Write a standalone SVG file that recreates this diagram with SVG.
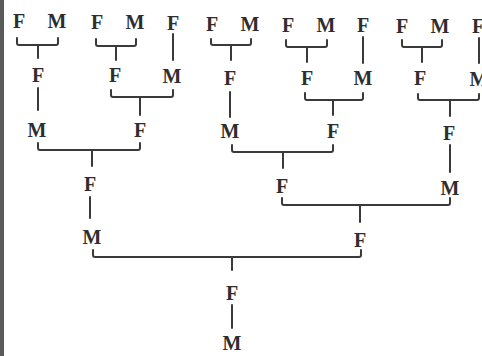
<svg xmlns="http://www.w3.org/2000/svg" width="482" height="356" viewBox="0 0 482 356">
<style>
.n{font-family:"Liberation Serif","Times New Roman",serif;font-size:20px;font-weight:bold;fill:#2e2e2e;text-anchor:middle}
.c{fill:none;stroke:#3a3a3a;stroke-width:2;stroke-linecap:round;stroke-linejoin:round}
</style>
<rect width="482" height="356" fill="#ffffff"/>
<rect x="0" y="0" width="4" height="356" fill="#5a5a5a"/>
<g id="connectors" class="c">
<path d="M17 38V43Q17 45 19 45H56Q58 45 58 43V38M38 45V58"/>
<path d="M96 39V44Q96 46 98 46H134Q136 46 136 44V39M116 46V60"/>
<path d="M173 34V60"/>
<path d="M211 39V43Q211 45 213 45H249Q251 45 251 43V39M231 45V60"/>
<path d="M286 40V45Q286 47 288 47H325Q327 47 327 45V40M307 47V62"/>
<path d="M363 37V63"/>
<path d="M402 40V45Q402 47 404 47H440Q442 47 442 45V40M422 47V62"/>
<path d="M479 38V63"/>
<path d="M38 88V110"/>
<path d="M111 90V95Q111 97 113 97H171Q173 97 173 95V90M140 97V115"/>
<path d="M230 92V117"/>
<path d="M305 93V98Q305 100 307 100H361Q363 100 363 98V93M333 100V115"/>
<path d="M418 94V98Q418 100 420 100H477Q479 100 479 98V94M450 100V116"/>
<path d="M38 143V148Q38 150 40 150H138Q140 150 140 148V143M92 150V166"/>
<path d="M232 145V150Q232 152 234 152H331Q333 152 333 150V145M283 152V168"/>
<path d="M450 145V172"/>
<path d="M90 197V218"/>
<path d="M282 198V203Q282 205 284 205H448Q450 205 450 203V198M360 205V222"/>
<path d="M93 250V255Q93 257 95 257H359Q361 257 361 255V250M232 257V270"/>
<path d="M232 305V328"/>
</g>
<g id="n1"><text class="n" x="19" y="28">F</text></g>
<g id="n2"><text class="n" x="57" y="28">M</text></g>
<g id="n3"><text class="n" x="97" y="29">F</text></g>
<g id="n4"><text class="n" x="135" y="29">M</text></g>
<g id="n5"><text class="n" x="173" y="30">F</text></g>
<g id="n6"><text class="n" x="212" y="31">F</text></g>
<g id="n7"><text class="n" x="250" y="31">M</text></g>
<g id="n8"><text class="n" x="288" y="32">F</text></g>
<g id="n9"><text class="n" x="326" y="32">M</text></g>
<g id="n10"><text class="n" x="363" y="32">F</text></g>
<g id="n11"><text class="n" x="402" y="33">F</text></g>
<g id="n12"><text class="n" x="440" y="33">M</text></g>
<g id="n13"><text class="n" x="478" y="33">F</text></g>
<g id="n14"><text class="n" x="38" y="82">F</text></g>
<g id="n15"><text class="n" x="115" y="82">F</text></g>
<g id="n16"><text class="n" x="172" y="83">M</text></g>
<g id="n17"><text class="n" x="230" y="85">F</text></g>
<g id="n18"><text class="n" x="307" y="85">F</text></g>
<g id="n19"><text class="n" x="363" y="85">M</text></g>
<g id="n20"><text class="n" x="420" y="85">F</text></g>
<g id="n21"><text class="n" x="479" y="86">M</text></g>
<g id="n22"><text class="n" x="37" y="137">M</text></g>
<g id="n23"><text class="n" x="140" y="137">F</text></g>
<g id="n24"><text class="n" x="230" y="138">M</text></g>
<g id="n25"><text class="n" x="333" y="138">F</text></g>
<g id="n26"><text class="n" x="449" y="140">F</text></g>
<g id="n27"><text class="n" x="90" y="191">F</text></g>
<g id="n28"><text class="n" x="282" y="193">F</text></g>
<g id="n29"><text class="n" x="450" y="195">M</text></g>
<g id="n30"><text class="n" x="92" y="244">M</text></g>
<g id="n31"><text class="n" x="360" y="247">F</text></g>
<g id="n32"><text class="n" x="232" y="300">F</text></g>
<g id="n33"><text class="n" x="232" y="350">M</text></g>
</svg>
